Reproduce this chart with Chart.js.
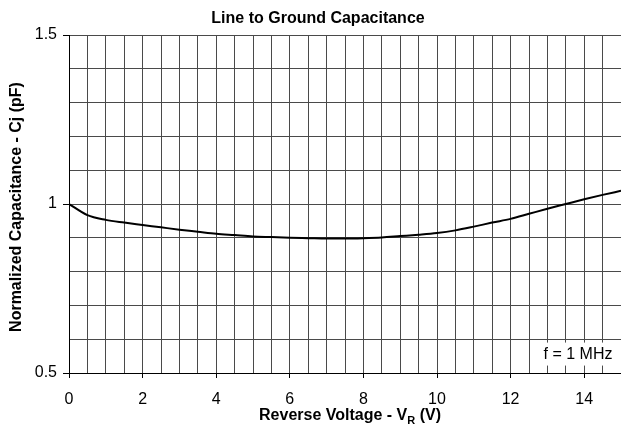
<!DOCTYPE html>
<html>
<head>
<meta charset="utf-8">
<script src="https://cdn.jsdelivr.net/npm/chart.js@4/dist/chart.umd.min.js"></script>
<style>
  html, body { margin: 0; padding: 0; background: #fff; }
  #wrap { width: 621px; height: 427px; }
</style>
</head>
<body>
<div id="wrap"><canvas id="c" width="621" height="427"></canvas></div>
<script>
// ---- data ----
const voltage = [0, 0.5, 1, 1.5, 2, 2.5, 3, 3.5, 4, 4.5, 5, 5.5, 6, 6.5, 7, 7.5, 8, 8.5, 9, 9.5, 10, 10.5, 11, 11.5, 12, 12.5, 13, 13.5, 14, 14.5, 15];
const capacitance = [1.0, 0.967, 0.953, 0.945, 0.938, 0.931, 0.924, 0.918, 0.912, 0.908, 0.904, 0.902, 0.900, 0.899, 0.898, 0.898, 0.899, 0.901, 0.905, 0.909, 0.914, 0.922, 0.933, 0.945, 0.956, 0.971, 0.986, 1.0, 1.014, 1.027, 1.039];
const xLabelValues = [0, 2, 4, 6, 8, 10, 12, 14];
const yLabelValues = [0.5, 1, 1.5];
const chartTitle = 'Line to Ground Capacitance';
const xTitleMain = 'Reverse Voltage - V';
const xTitleSub = 'R';
const xTitleEnd = ' (V)';
const yTitle = 'Normalized Capacitance - Cj (pF)';
const noteText = 'f = 1 MHz';

const FONT = '"Liberation Sans", Arial, sans-serif';
const isXLabel = v => xLabelValues.some(t => Math.abs(t - v) < 1e-6);
const isYLabel = v => yLabelValues.some(t => Math.abs(t - v) < 1e-6);

const textPlugin = {
  id: 'texts',
  beforeDatasetsDraw(chart) {
    const ctx = chart.ctx;
    const xs = chart.scales.x, ys = chart.scales.y;
    // note box
    ctx.save();
    const left = xs.getPixelForValue(12.6);
    const top = ys.getPixelForValue(0.59);
    const bottom = ys.getPixelForValue(0.522);
    ctx.fillStyle = '#fff';
    ctx.fillRect(left, top, chart.chartArea.right - left + 2, bottom - top);
    ctx.fillStyle = '#000';
    ctx.font = '16px ' + FONT;
    ctx.textAlign = 'center';
    ctx.textBaseline = 'middle';
    ctx.fillText(noteText, 578, ys.getPixelForValue(0.555));
    ctx.restore();
  },
  afterDraw(chart) {
    const ctx = chart.ctx;
    ctx.save();
    ctx.fillStyle = '#000';
    // title
    ctx.font = 'bold 16px ' + FONT;
    ctx.textAlign = 'center';
    ctx.textBaseline = 'middle';
    ctx.fillText(chartTitle, 318, 19);
    // y title
    ctx.save();
    ctx.translate(17, 207);
    ctx.rotate(-Math.PI / 2);
    ctx.fillText(yTitle, 0, 0);
    ctx.restore();
    // x title with subscript
    ctx.textAlign = 'left';
    const mainFont = 'bold 16px ' + FONT;
    const subFont = 'bold 11px ' + FONT;
    ctx.font = mainFont;
    const w1 = ctx.measureText(xTitleMain).width;
    const w3 = ctx.measureText(xTitleEnd).width;
    ctx.font = subFont;
    const w2 = ctx.measureText(xTitleSub).width;
    const total = w1 + w2 + w3;
    let x = 350 - total / 2;
    const y = 416;
    ctx.font = mainFont;
    ctx.fillText(xTitleMain, x, y);
    x += w1;
    ctx.font = subFont;
    ctx.fillText(xTitleSub, x, y + 5);
    x += w2;
    ctx.font = mainFont;
    ctx.fillText(xTitleEnd, x, y);
    ctx.restore();
  }
};

new Chart(document.getElementById('c'), {
  type: 'line',
  data: {
    datasets: [{
      data: voltage.map((v, i) => ({ x: v, y: capacitance[i] })),
      borderColor: '#000',
      borderWidth: 2,
      pointRadius: 0,
      fill: false,
      cubicInterpolationMode: 'monotone'
    }]
  },
  options: {
    responsive: false,
    animation: false,
    devicePixelRatio: 1,
    layout: { padding: { top: 35, left: 0, right: 0, bottom: 0 } },
    plugins: { legend: { display: false }, title: { display: false }, tooltip: { enabled: false } },
    scales: {
      x: {
        type: 'linear', min: 0, max: 15,
        afterFit(s) { s.height = 54; s.paddingLeft = 0; s.paddingRight = 0; },
        ticks: {
          stepSize: 0.5, autoSkip: false, maxRotation: 0, padding: 12,
          color: '#000', font: { family: FONT, size: 16 },
          callback: v => isXLabel(v) ? String(v) : ''
        },
        grid: {
          color: '#4a4a4a', lineWidth: 1, drawTicks: true, tickLength: 5,
          tickColor: c => (c.tick && isXLabel(c.tick.value)) ? '#000' : 'rgba(0,0,0,0)'
        },
        border: { display: true, color: '#000', width: 1 }
      },
      y: {
        type: 'linear', min: 0.5, max: 1.5,
        afterFit(s) { s.width = 69; s.paddingTop = 0; s.paddingBottom = 0; },
        ticks: {
          stepSize: 0.1, autoSkip: false, padding: 6,
          color: '#000', font: { family: FONT, size: 16 },
          callback: v => isYLabel(v) ? String(Math.round(v * 10) / 10) : ''
        },
        grid: {
          color: '#4a4a4a', lineWidth: 1, drawTicks: true, tickLength: 6,
          tickColor: c => (c.tick && isYLabel(c.tick.value)) ? '#000' : 'rgba(0,0,0,0)'
        },
        border: { display: true, color: '#000', width: 1 }
      }
    }
  },
  plugins: [textPlugin]
});
</script>
</body>
</html>
